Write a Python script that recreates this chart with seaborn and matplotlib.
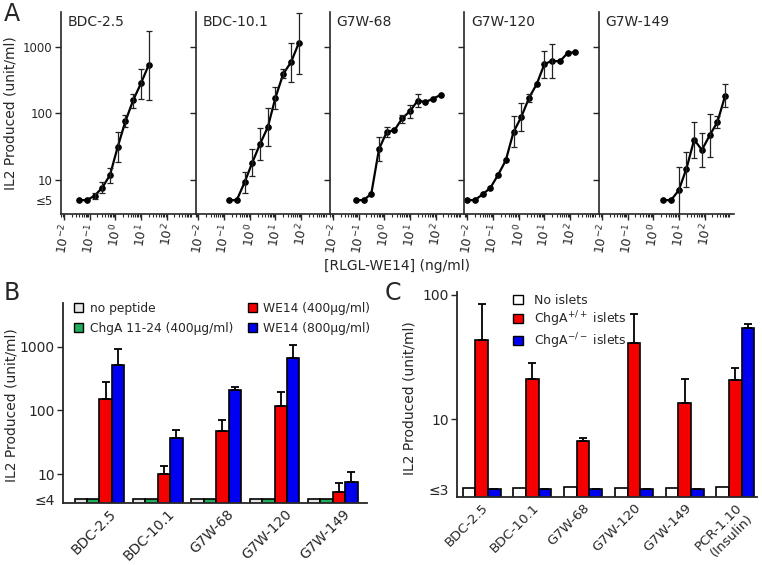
import numpy as np
import pandas as pd
import matplotlib
matplotlib.use('Agg')
import matplotlib.pyplot as plt
import matplotlib.transforms as mtransforms
import seaborn as sns
from matplotlib.ticker import LogLocator, NullFormatter, NullLocator, FixedLocator
from matplotlib.patches import Patch

sns.set_style('ticks')
plt.rcParams['font.family'] = ['DejaVu Sans']

nan = np.nan

# =============================================================================
# DATA - panel A (dose response, IL2 vs [RLGL-WE14] ng/ml)
# =============================================================================
clones = ['BDC-2.5', 'BDC-10.1', 'G7W-68', 'G7W-120', 'G7W-149']

dose_bdc25 = [0.039, 0.078, 0.156, 0.3125, 0.625, 1.25, 2.5, 5, 10, 20]
il2_bdc25 = [5, 5, 5.8, 7.7, 11.9, 31.6, 76.7, 158, 282, 531]
lo_bdc25 = [nan, nan, 5.2, 6.3, 9.0, 18.8, 62, 122, 164, 158]
hi_bdc25 = [nan, nan, 6.5, 9.4, 15.3, 51.9, 94, 193, 462, 1738]

dose_bdc101 = [0.156, 0.3125, 0.625, 1.25, 2.5, 5, 10, 20, 40, 80]
il2_bdc101 = [5, 5, 9.2, 18.2, 34.7, 61.7, 172, 389, 582, 1122]
lo_bdc101 = [nan, nan, 6.5, 11.5, 20, 32.4, 116, 335, 295, 385]
hi_bdc101 = [nan, nan, 13.3, 28.8, 59.6, 119, 245, 457, 1148, 3162]

dose_g7w68 = [0.078, 0.156, 0.3125, 0.625, 1.25, 2.5, 5, 10, 20, 40, 80, 160]
il2_g7w68 = [5, 5, 6.2, 29.2, 52.5, 56, 84, 108, 155, 148, 166, 190]
lo_g7w68 = [nan, nan, nan, 19.5, 44.7, nan, 72.4, 84, 123, nan, nan, nan]
hi_g7w68 = [nan, nan, nan, 43.7, 61.7, nan, 95.5, 135, 193, nan, nan, nan]

dose_g7w120 = [0.0098, 0.0195, 0.039, 0.078, 0.156, 0.3125, 0.625, 1.25, 2.5, 5, 10, 20, 40, 80, 160]
il2_g7w120 = [5, 5, 6.1, 7.6, 11.9, 19.7, 52.5, 88, 170, 275, 550, 610, 603, 804, 822]
lo_g7w120 = [nan, nan, nan, nan, nan, nan, 31, 54, 148, nan, 335, 335, nan, nan, nan]
hi_g7w120 = [nan, nan, nan, nan, nan, nan, 91, 141, 197, nan, 861, 1084, nan, nan, nan]

dose_g7w149 = [2.44, 4.88, 9.77, 19.5, 39, 78, 156, 312, 625]
il2_g7w149 = [5, 5, 7.0, 14.8, 40.3, 28.2, 46.8, 74, 184]
lo_g7w149 = [nan, nan, 1.0, 8.0, 21.4, 15.5, 22.1, 61, 124]
hi_g7w149 = [nan, nan, 15.7, 26.6, 74, 50.7, 98.9, 91, 279]

# =============================================================================
# DATA - panel B (peptide stimulation)
# =============================================================================
b_clones = ['BDC-2.5', 'BDC-10.1', 'G7W-68', 'G7W-120', 'G7W-149']
b_levels = ['no peptide', 'ChgA 11-24 (400\u03bcg/ml)', 'WE14 (400\u03bcg/ml)', 'WE14 (800\u03bcg/ml)']
b_none = [4, 4, 4, 4, 4]
b_chga = [4, 4, 4, 4, 4]
b_we400 = [149, 9.9, 46.8, 117, 5.15]
b_we400_top = [275, 13.5, 70.5, 196, 7.2]
b_we800 = [515, 36.7, 209, 664, 7.5]
b_we800_top = [919, 49, 230, 1050, 10.6]
b_colors = ['#e6e6e6', '#1fae5a', '#f50000', '#0000f0']

# =============================================================================
# DATA - panel C (islet stimulation)
# =============================================================================
c_clones = ['BDC-2.5', 'BDC-10.1', 'G7W-68', 'G7W-120', 'G7W-149', 'PCR-1.10\n(Insulin)']
c_levels = ['No islets', 'ChgA$^{+/+}$ islets', 'ChgA$^{-/-}$ islets']
c_none = [2.8, 2.8, 2.84, 2.8, 2.8, 2.84]
c_wt = [43.4, 21.1, 6.7, 41.4, 13.5, 20.8]
c_wt_top = [84.7, 28.2, 7.13, 70.8, 21.1, 26]
c_ko = [2.75, 2.75, 2.75, 2.75, 2.75, 54.6]
c_ko_top = [nan, nan, nan, nan, nan, 58.5]
c_colors = ['#ffffff', '#f50000', '#0000f0']

# =============================================================================
# FIGURE
# =============================================================================
fig = plt.figure(figsize=(7.62, 5.65), dpi=100)

# ---- panel A -----------------------------------------------------------------
curvas = [
    (dose_bdc25, il2_bdc25, lo_bdc25, hi_bdc25),
    (dose_bdc101, il2_bdc101, lo_bdc101, hi_bdc101),
    (dose_g7w68, il2_g7w68, lo_g7w68, hi_g7w68),
    (dose_g7w120, il2_g7w120, lo_g7w120, hi_g7w120),
    (dose_g7w149, il2_g7w149, lo_g7w149, hi_g7w149),
]
a_left, a_w, a_bot, a_h = 61 / 762, 134.5 / 762, 1 - 214 / 565, 202 / 565

for i, (nome, (dose, il2, lo, hi)) in enumerate(zip(clones, curvas)):
    ax = fig.add_axes([a_left + i * a_w, a_bot, a_w, a_h])
    df = pd.DataFrame({'dose': dose, 'il2': il2})
    sns.lineplot(data=df, x='dose', y='il2', ax=ax, color='black', lw=1.6,
                 marker='o', markersize=4, markeredgecolor='black')
    il2_a, lo_a, hi_a = np.array(il2), np.array(lo), np.array(hi)
    ax.errorbar(dose, il2, yerr=[il2_a - lo_a, hi_a - il2_a], fmt='none',
                ecolor='#222222', elinewidth=0.9, capsize=2, capthick=0.9)
    ax.set_xscale('log')
    ax.set_yscale('log')
    ax.set_xlim(10 ** -2.11, 10 ** 3.12)
    ax.set_ylim(3.1, 3300)
    ax.xaxis.set_major_locator(FixedLocator([1e-2, 1e-1, 1, 1e1, 1e2]))
    ax.set_xticklabels(['$10^{-2}$', '$10^{-1}$', '$10^{0}$', '$10^{1}$', '$10^{2}$'],
                       rotation=80, ha='center', va='top', fontsize=9)
    ax.xaxis.set_minor_locator(LogLocator(base=10, subs=np.arange(2, 10), numticks=20))
    ax.xaxis.set_minor_formatter(NullFormatter())
    ax.yaxis.set_major_locator(FixedLocator([5, 10, 100, 1000]))
    ax.yaxis.set_minor_locator(NullLocator())
    ax.yaxis.get_major_ticks()[0].tick1line.set_visible(False)
    if i == 0:
        ax.set_yticklabels(['\u22645', '10', '100', '1000'], fontsize=8.5)
        ax.set_ylabel('IL2 Produced (unit/ml)', fontsize=10)
        ax.yaxis.set_label_coords(-0.327, 0.5)
    else:
        ax.set_yticklabels([])
        ax.set_ylabel('')
    if i == 2:
        ax.set_xlabel('[RLGL-WE14] (ng/ml)', fontsize=10, labelpad=3)
    else:
        ax.set_xlabel('')
    ax.tick_params(axis='both', which='major', length=4, width=1, pad=2)
    ax.tick_params(axis='x', which='minor', length=2, width=0.8)
    for s in ['top', 'right']:
        ax.spines[s].set_visible(False)
    for s in ['left', 'bottom']:
        ax.spines[s].set_linewidth(1.2)
    ax.text(0.05, 0.985, nome, transform=ax.transAxes, ha='left', va='top', fontsize=10)


def barras_log(ax, grupos, niveis, series, tops, cores, largura):
    df = pd.DataFrame({'grupo': np.repeat(grupos, len(niveis)),
                       'nivel': niveis * len(grupos),
                       'valor': np.array(series).T.ravel()})
    sns.barplot(data=df, x='grupo', y='valor', hue='nivel', hue_order=niveis,
                palette=cores, width=largura, edgecolor='black', linewidth=1.2,
                errorbar=None, ax=ax, legend=False, saturation=1)
    ax.set_yscale('log')
    for cont, top in zip(ax.containers, tops):
        if top is None:
            continue
        xs = [b.get_x() + b.get_width() / 2 for b in cont]
        hs = np.array([b.get_height() for b in cont])
        up = np.array(top) - hs
        ax.errorbar(xs, hs, yerr=[np.zeros_like(hs), up], fmt='none',
                    ecolor='black', elinewidth=1.3, capsize=3, capthick=1.3, zorder=1)
    for s in ['top', 'right']:
        ax.spines[s].set_visible(False)
    for s in ['left', 'bottom']:
        ax.spines[s].set_linewidth(1.3)
    ax.set_xlabel('')
    ax.tick_params(axis='x', length=0, pad=3)
    ax.tick_params(axis='y', length=4, width=1, pad=2)
    ax.yaxis.set_minor_locator(NullLocator())


# ---- panel B -----------------------------------------------------------------
axb = fig.add_axes([63.3 / 762, 1 - 502.7 / 565, 303.4 / 762, 200 / 565])
barras_log(axb, b_clones, b_levels, [b_none, b_chga, b_we400, b_we800],
           [None, None, b_we400_top, b_we800_top], b_colors, 0.85)
axb.set_xlim(-0.62, 4.58)
axb.set_ylim(3.55, 4900)
axb.yaxis.set_major_locator(FixedLocator([4, 10, 100, 1000]))
axb.set_yticklabels(['\u22644', '10', '100', '1000'], fontsize=10)
axb.yaxis.get_major_ticks()[0].tick1line.set_visible(False)
axb.set_xticks(range(len(b_clones)))
axb.set_xticklabels(b_clones, rotation=45, ha='right', rotation_mode='anchor', fontsize=10)
desloc = mtransforms.ScaledTranslation(0.1, 0, fig.dpi_scale_trans)
for lab in axb.get_xticklabels():
    lab.set_transform(lab.get_transform() + desloc)
axb.set_ylabel('IL2 Produced (unit/ml)', fontsize=10)
axb.yaxis.set_label_coords(-0.149, 0.49)
h_b = [Patch(facecolor=c, edgecolor='black', linewidth=1) for c in b_colors]
axb.legend(h_b, b_levels, ncol=2, loc='upper left', bbox_to_anchor=(0.0, 1.06),
           frameon=False, fontsize=8.8, handlelength=0.75, handleheight=0.75,
           handletextpad=0.5, columnspacing=1.2, labelspacing=0.6)

# ---- panel C -----------------------------------------------------------------
axc = fig.add_axes([457.3 / 762, 1 - 496.7 / 565, 299.4 / 762, 205 / 565])
barras_log(axc, c_clones, c_levels, [c_none, c_wt, c_ko],
           [None, c_wt_top, c_ko_top], c_colors, 0.75)
axc.set_xlim(-0.48, 5.42)
axc.set_ylim(2.39, 106)
axc.yaxis.set_major_locator(FixedLocator([2.75, 10, 100]))
axc.set_yticklabels(['\u22643', '10', '100'], fontsize=10)
axc.yaxis.get_major_ticks()[0].tick1line.set_visible(False)
axc.set_xticks(range(len(c_clones)))
axc.set_xticklabels(c_clones, rotation=45, ha='right', rotation_mode='anchor', fontsize=9.6)
axc.set_ylabel('IL2 Produced (unit/ml)', fontsize=10)
axc.yaxis.set_label_coords(-0.135, 0.48)
h_c = [Patch(facecolor=c, edgecolor='black', linewidth=1) for c in c_colors]
axc.legend(h_c, c_levels, loc='upper left', bbox_to_anchor=(0.15, 1.045),
           frameon=False, fontsize=9, handlelength=0.75, handleheight=0.75,
           handletextpad=0.9, labelspacing=0.2)

# ---- panel letters -------------------------------------------------------------
fig.text(4 / 762, 1 - 2 / 565, 'A', fontsize=17, va='top', ha='left')
fig.text(4 / 762, 1 - 281 / 565, 'B', fontsize=17, va='top', ha='left')
fig.text(385 / 762, 1 - 281 / 565, 'C', fontsize=17, va='top', ha='left')

fig.savefig('out.png', dpi=100)
